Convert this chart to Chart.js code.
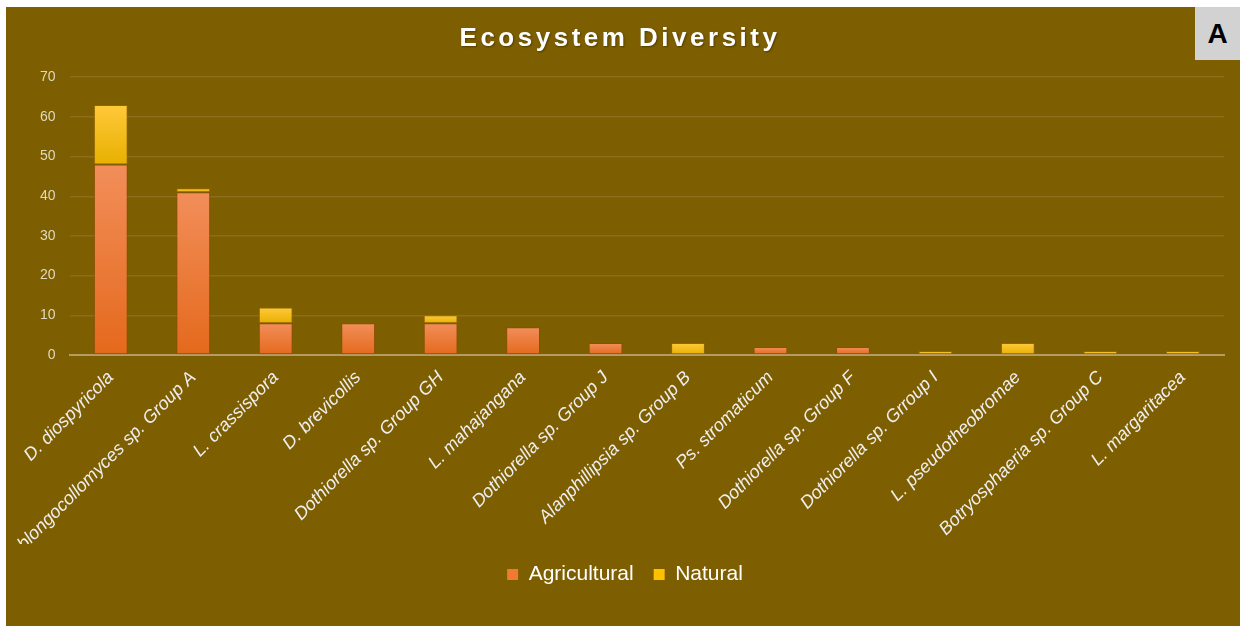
<!DOCTYPE html>
<html>
<head>
<meta charset="utf-8">
<script src="https://cdn.jsdelivr.net/npm/chart.js@4.4.1/dist/chart.umd.min.js"></script>
<style>
  html, body { margin: 0; padding: 0; background: #ffffff; }
  #wrap { position: absolute; left: 6px; top: 7px; width: 1234px; height: 619px; background: #7d5e00; }
  #tag {
    position: absolute; right: 0; top: 0; width: 45px; height: 53px;
    background: #d2d2d2; color: #000; font: bold 28px "Liberation Sans", Arial, sans-serif;
    display: flex; align-items: center; justify-content: center;
  }
</style>
</head>
<body>
<div id="wrap">
  <canvas id="chart" width="1234" height="619"></canvas>
  <div id="tag">A</div>
</div>
<script>
const categories = [
  'D. diospyricola', 'Oblongocollomyces sp. Group A', 'L. crassispora', 'D. brevicollis',
  'Dothiorella sp. Group GH', 'L. mahajangana', 'Dothiorella sp. Group J', 'Alanphillipsia sp. Group B',
  'Ps. stromaticum', 'Dothiorella sp. Group F', 'Dothiorella sp. Grroup I', 'L. pseudotheobromae',
  'Botryosphaeria sp. Group C', 'L. margaritacea'
];
const agricultural = [48, 41, 8, 8, 8, 7, 3, 0, 2, 2, 0, 0, 0, 0];
const natural      = [15, 1, 4, 0, 2, 0, 0, 3, 0, 0, 1, 3, 1, 1];
const yTicks = [0, 10, 20, 30, 40, 50, 60, 70];

// vertical gradient for each bar segment, lighter at the top
function segmentFill(ctx, lo, hi, topColor, bottomColor) {
  const chart = ctx.chart;
  const y = chart.scales.y;
  if (!y || ctx.type !== 'data') return bottomColor;
  const i = ctx.dataIndex;
  const base = lo[i], top = lo[i] + hi[i];
  const y0 = y.getPixelForValue(base), y1 = y.getPixelForValue(top);
  if (!isFinite(y0) || !isFinite(y1) || y0 === y1) return bottomColor;
  const g = chart.ctx.createLinearGradient(0, y1, 0, y0);
  g.addColorStop(0, topColor);
  g.addColorStop(1, bottomColor);
  return g;
}

const zeros = agricultural.map(() => 0);

// draws the title with letter spacing in the space reserved by the title box
const spacedTitle = {
  id: 'spacedTitle',
  afterDraw(chart) {
    const ctx = chart.ctx;
    const tb = chart.titleBlock;
    ctx.save();
    ctx.font = 'bold 26px "Liberation Sans", Arial, sans-serif';
    ctx.letterSpacing = '3.5px';
    ctx.fillStyle = '#ffffff';
    ctx.textAlign = 'center';
    ctx.textBaseline = 'middle';
    ctx.shadowColor = 'rgba(0,0,0,0.35)';
    ctx.shadowOffsetX = 1; ctx.shadowOffsetY = 1; ctx.shadowBlur = 2;
    ctx.fillText('Ecosystem Diversity', chart.width / 2 - 3, tb.top + 32);
    ctx.restore();
  }
};

new Chart(document.getElementById('chart'), {
  type: 'bar',
  data: {
    labels: categories,
    datasets: [
      {
        label: 'Agricultural',
        data: agricultural,
        backgroundColor: c => segmentFill(c, zeros, agricultural, '#f28e5a', '#e4691c'),
        borderColor: 'rgba(150,70,10,0.6)',
        borderWidth: 1,
        borderSkipped: false,
        barPercentage: 0.41,
        categoryPercentage: 1.0
      },
      {
        label: 'Natural',
        data: natural,
        backgroundColor: c => segmentFill(c, agricultural, natural, '#ffc93a', '#e8b000'),
        borderColor: 'rgba(160,110,0,0.6)',
        borderWidth: 1,
        borderSkipped: false,
        barPercentage: 0.41,
        categoryPercentage: 1.0
      }
    ]
  },
  options: {
    responsive: false,
    animation: false,
    layout: { padding: { left: 20, right: 16, top: 0, bottom: 31 } },
    plugins: {
      title: {
        display: true,
        text: 'Ecosystem Diversity',
        color: 'rgba(0,0,0,0)',
        font: { family: '"Liberation Sans", Arial, sans-serif', size: 26, weight: 'bold' },
        padding: { top: 2, bottom: 37 }
      },
      legend: {
        position: 'bottom',
        labels: {
          color: '#ffffff',
          font: { family: '"Liberation Sans", Arial, sans-serif', size: 21 },
          boxWidth: 11,
          boxHeight: 11,
          padding: 20,
          generateLabels: chart => chart.data.datasets.map((ds, i) => ({
            text: ds.label,
            fillStyle: i === 0 ? '#f07a30' : '#ffc000',
            strokeStyle: 'rgba(0,0,0,0)',
            lineWidth: 0,
            datasetIndex: i,
            fontColor: '#ffffff'
          }))
        }
      },
      tooltip: { enabled: false }
    },
    scales: {
      x: {
        stacked: true,
        grid: { display: false },
        border: { color: '#b59c62', width: 2 },
        afterFit: s => { s.height = 189; },
        ticks: {
          color: '#eeeeee',
          minRotation: 45,
          maxRotation: 45,
          autoSkip: false,
          padding: 4,
          font: { family: '"Liberation Sans", Arial, sans-serif', size: 18, style: 'italic' }
        }
      },
      y: {
        stacked: true,
        min: 0,
        max: 70,
        afterBuildTicks: axis => { axis.ticks = yTicks.map(v => ({ value: v })); },
        grid: { color: '#8c6d1c', lineWidth: 1.5, drawTicks: false },
        border: { display: false },
        ticks: {
          color: '#e2d9bd',
          padding: 14,
          font: { family: '"Liberation Sans", Arial, sans-serif', size: 14 }
        }
      }
    }
  },
  plugins: [spacedTitle]
});
</script>
</body>
</html>
